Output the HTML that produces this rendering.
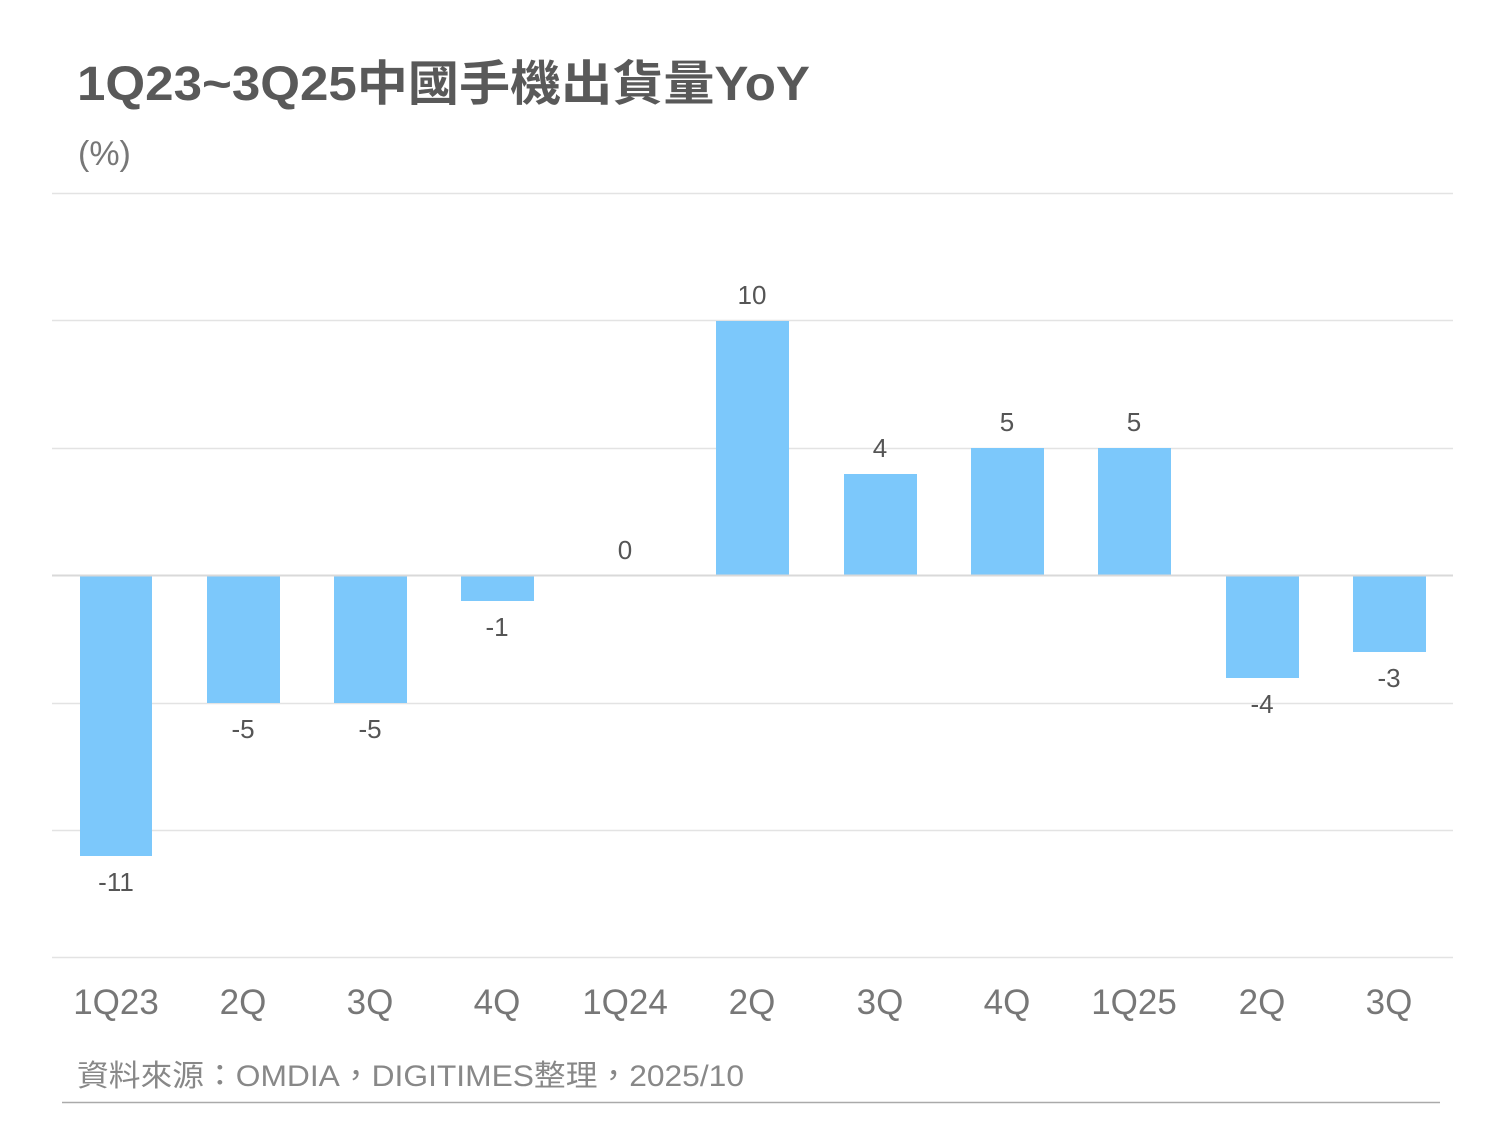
<!DOCTYPE html>
<html><head><meta charset="utf-8"><style>
body{margin:0;background:#fff;}
svg text{font-family:"Liberation Sans","Noto Sans CJK TC",sans-serif;}
</style></head><body>
<svg width="1500" height="1125" xmlns="http://www.w3.org/2000/svg">
<text x="77" y="100" font-size="48" font-weight="bold" fill="#595959" textLength="733" lengthAdjust="spacingAndGlyphs">1Q23~3Q25中國手機出貨量YoY</text>
<text x="78" y="165" font-size="34" fill="#777">(%)</text>
<g stroke="#e3e3e3" stroke-width="1.5">
<line x1="52" x2="1453" y1="193.5" y2="193.5"/>
<line x1="52" x2="1453" y1="320.5" y2="320.5"/>
<line x1="52" x2="1453" y1="448.5" y2="448.5"/>
<line x1="52" x2="1453" y1="703.5" y2="703.5"/>
<line x1="52" x2="1453" y1="830.5" y2="830.5"/>
<line x1="52" x2="1453" y1="957.5" y2="957.5"/>
</g>
<g fill="#7cc8fb">
<rect x="80" y="576" width="72" height="280"/>
<rect x="207" y="576" width="73" height="127"/>
<rect x="334" y="576" width="73" height="127"/>
<rect x="461" y="576" width="73" height="25"/>
<rect x="716" y="321" width="73" height="254"/>
<rect x="844" y="474" width="73" height="101"/>
<rect x="971" y="448" width="73" height="127"/>
<rect x="1098" y="448" width="73" height="127"/>
<rect x="1226" y="576" width="73" height="102"/>
<rect x="1353" y="576" width="73" height="76"/>
</g>
<line x1="52" x2="1453" y1="575.5" y2="575.5" stroke="#d9d9d9" stroke-width="2"/>
<g font-size="26" fill="#555" text-anchor="middle">
<text x="116" y="891">-11</text>
<text x="243" y="738">-5</text>
<text x="370" y="738">-5</text>
<text x="497" y="636">-1</text>
<text x="625" y="559">0</text>
<text x="752" y="304">10</text>
<text x="880" y="457">4</text>
<text x="1007" y="431">5</text>
<text x="1134" y="431">5</text>
<text x="1262" y="713">-4</text>
<text x="1389" y="687">-3</text>
</g>
<g font-size="35" fill="#777" text-anchor="middle">
<text x="116" y="1014">1Q23</text>
<text x="243" y="1014">2Q</text>
<text x="370" y="1014">3Q</text>
<text x="497" y="1014">4Q</text>
<text x="625" y="1014">1Q24</text>
<text x="752" y="1014">2Q</text>
<text x="880" y="1014">3Q</text>
<text x="1007" y="1014">4Q</text>
<text x="1134" y="1014">1Q25</text>
<text x="1262" y="1014">2Q</text>
<text x="1389" y="1014">3Q</text>
</g>
<text x="77" y="1086" font-size="30" fill="#888" textLength="667" lengthAdjust="spacingAndGlyphs">資料來源：OMDIA，DIGITIMES整理，2025/10</text>
<line x1="62" x2="1440" y1="1102.5" y2="1102.5" stroke="#aaa" stroke-width="1.5"/>
</svg>
</body></html>
